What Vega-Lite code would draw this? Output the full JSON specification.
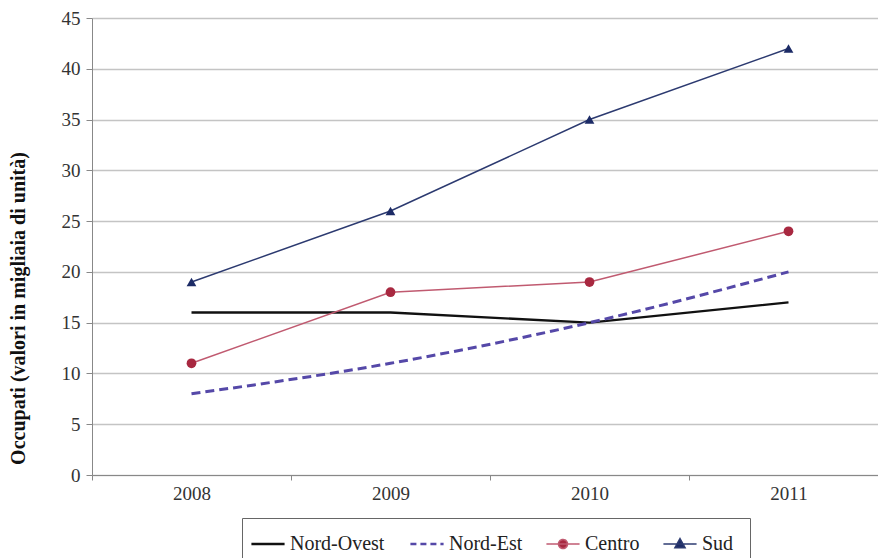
{
  "$schema": "https://vega.github.io/schema/vega-lite/v6.json",
  "width": 786,
  "height": 457,
  "autosize": {"type": "none"},
  "padding": {"left": 92, "top": 18, "right": 0, "bottom": 83},
  "background": "white",
  "config": {
    "view": {"stroke": null},
    "font": "Liberation Serif"
  },
  "data": {
    "values": [
      {"anno": "2008", "serie": "Nord-Ovest", "valore": 16},
      {"anno": "2009", "serie": "Nord-Ovest", "valore": 16},
      {"anno": "2010", "serie": "Nord-Ovest", "valore": 15},
      {"anno": "2011", "serie": "Nord-Ovest", "valore": 17},
      {"anno": "2008", "serie": "Nord-Est", "valore": 8},
      {"anno": "2009", "serie": "Nord-Est", "valore": 11},
      {"anno": "2010", "serie": "Nord-Est", "valore": 15},
      {"anno": "2011", "serie": "Nord-Est", "valore": 20},
      {"anno": "2008", "serie": "Centro", "valore": 11},
      {"anno": "2009", "serie": "Centro", "valore": 18},
      {"anno": "2010", "serie": "Centro", "valore": 19},
      {"anno": "2011", "serie": "Centro", "valore": 24},
      {"anno": "2008", "serie": "Sud", "valore": 19},
      {"anno": "2009", "serie": "Sud", "valore": 26},
      {"anno": "2010", "serie": "Sud", "valore": 35},
      {"anno": "2011", "serie": "Sud", "valore": 42}
    ]
  },
  "encoding": {
    "x": {
      "field": "anno", "type": "ordinal",
      "scale": {"type": "band", "range": [0, 796], "paddingInner": 0, "paddingOuter": 0},
      "axis": {
        "title": null, "labelAngle": 0, "labelFontSize": 19, "labelColor": "#333", "labelFont": "Liberation Serif",
        "tickBand": "extent", "tickSize": 5, "tickColor": "#888", "domainColor": "#888",
        "labelPadding": 4, "grid": false
      }
    },
    "y": {
      "field": "valore", "type": "quantitative",
      "scale": {"domain": [0, 45]},
      "axis": {
        "title": "Occupati (valori in migliaia di unità)", "titleFontSize": 20, "titleFontWeight": "bold",
        "titleFont": "Liberation Serif", "titleColor": "#111",
        "titleX": -74, "titleY": 290, "titleAngle": 270, "titleBaseline": "middle", "titleAlign": "center",
        "values": [0, 5, 10, 15, 20, 25, 30, 35, 40, 45],
        "labelFontSize": 19, "labelColor": "#333", "labelFont": "Liberation Serif", "labelPadding": 6,
        "tickSize": 6, "tickColor": "#888", "domainColor": "#888",
        "grid": true, "gridColor": "#c4c4c4", "gridWidth": 1.5
      }
    }
  },
  "layer": [
    {
      "mark": {"type": "line", "interpolate": "linear", "strokeWidth": 2.3},
      "transform": [{"filter": "datum.serie == 'Nord-Ovest'"}],
      "encoding": {
        "color": {"field": "serie", "type": "nominal",
          "scale": {"domain": ["Nord-Ovest", "Nord-Est", "Centro", "Sud"], "range": ["#111111", "#5548a8", "#c05a70", "#2c3a70"]},
          "legend": {
            "title": null, "orient": "none", "legendX": 150, "legendY": 500, "direction": "horizontal",
            "strokeColor": "#666", "fillColor": "white", "padding": 16,
            "labelFont": "Liberation Serif", "labelFontSize": 20, "labelColor": "#222",
            "symbolStrokeWidth": 2, "symbolSize": 1100, "columnPadding": 20, "labelOffset": 12,
            "encode": {
              "symbols": {
                "update": {
                  "shape": {"signal": "datum.value == 'Centro' ? 'M-1,0H1M-0.27,0A0.27,0.27 0 1,1 0.27,0A0.27,0.27 0 1,1 -0.27,0Z' : datum.value == 'Sud' ? 'M-1,0H1M0,-0.32L0.3,0.22L-0.3,0.22Z' : 'M-1,0H1'"},
                  "size": {"value": 1100},
                  "fill": {"signal": "datum.value == 'Centro' ? '#a82840' : datum.value == 'Sud' ? '#1c2b66' : 'transparent'"},
                  "strokeDash": {"signal": "datum.value == 'Nord-Est' ? [6, 4] : [1, 0]"},
                  "strokeWidth": {"signal": "datum.value == 'Nord-Est' ? 2.5 : datum.value == 'Nord-Ovest' ? 2.3 : 1.6"}
                }
              }
            }
          }}
      }
    },
    {
      "mark": {"type": "line", "interpolate": "monotone", "strokeWidth": 3, "strokeDash": [9, 5]},
      "transform": [{"filter": "datum.serie == 'Nord-Est'"}],
      "encoding": {"color": {"field": "serie", "type": "nominal"}}
    },
    {
      "mark": {"type": "line", "interpolate": "linear", "strokeWidth": 1.5},
      "transform": [{"filter": "datum.serie == 'Centro' || datum.serie == 'Sud'"}],
      "encoding": {"color": {"field": "serie", "type": "nominal"}}
    },
    {
      "mark": {"type": "point", "filled": true, "opacity": 1, "size": 95, "shape": "circle"},
      "transform": [{"filter": "datum.serie == 'Centro'"}],
      "encoding": {
        "fill": {"field": "serie", "type": "nominal", "legend": null,
          "scale": {"domain": ["Nord-Ovest", "Nord-Est", "Centro", "Sud"], "range": ["#111111", "#5548a8", "#a82840", "#1c2b66"]}}
      }
    },
    {
      "mark": {"type": "point", "filled": true, "opacity": 1, "size": 95, "shape": "triangle-up"},
      "transform": [{"filter": "datum.serie == 'Sud'"}],
      "encoding": {
        "fill": {"field": "serie", "type": "nominal", "legend": null}
      }
    }
  ]
}
